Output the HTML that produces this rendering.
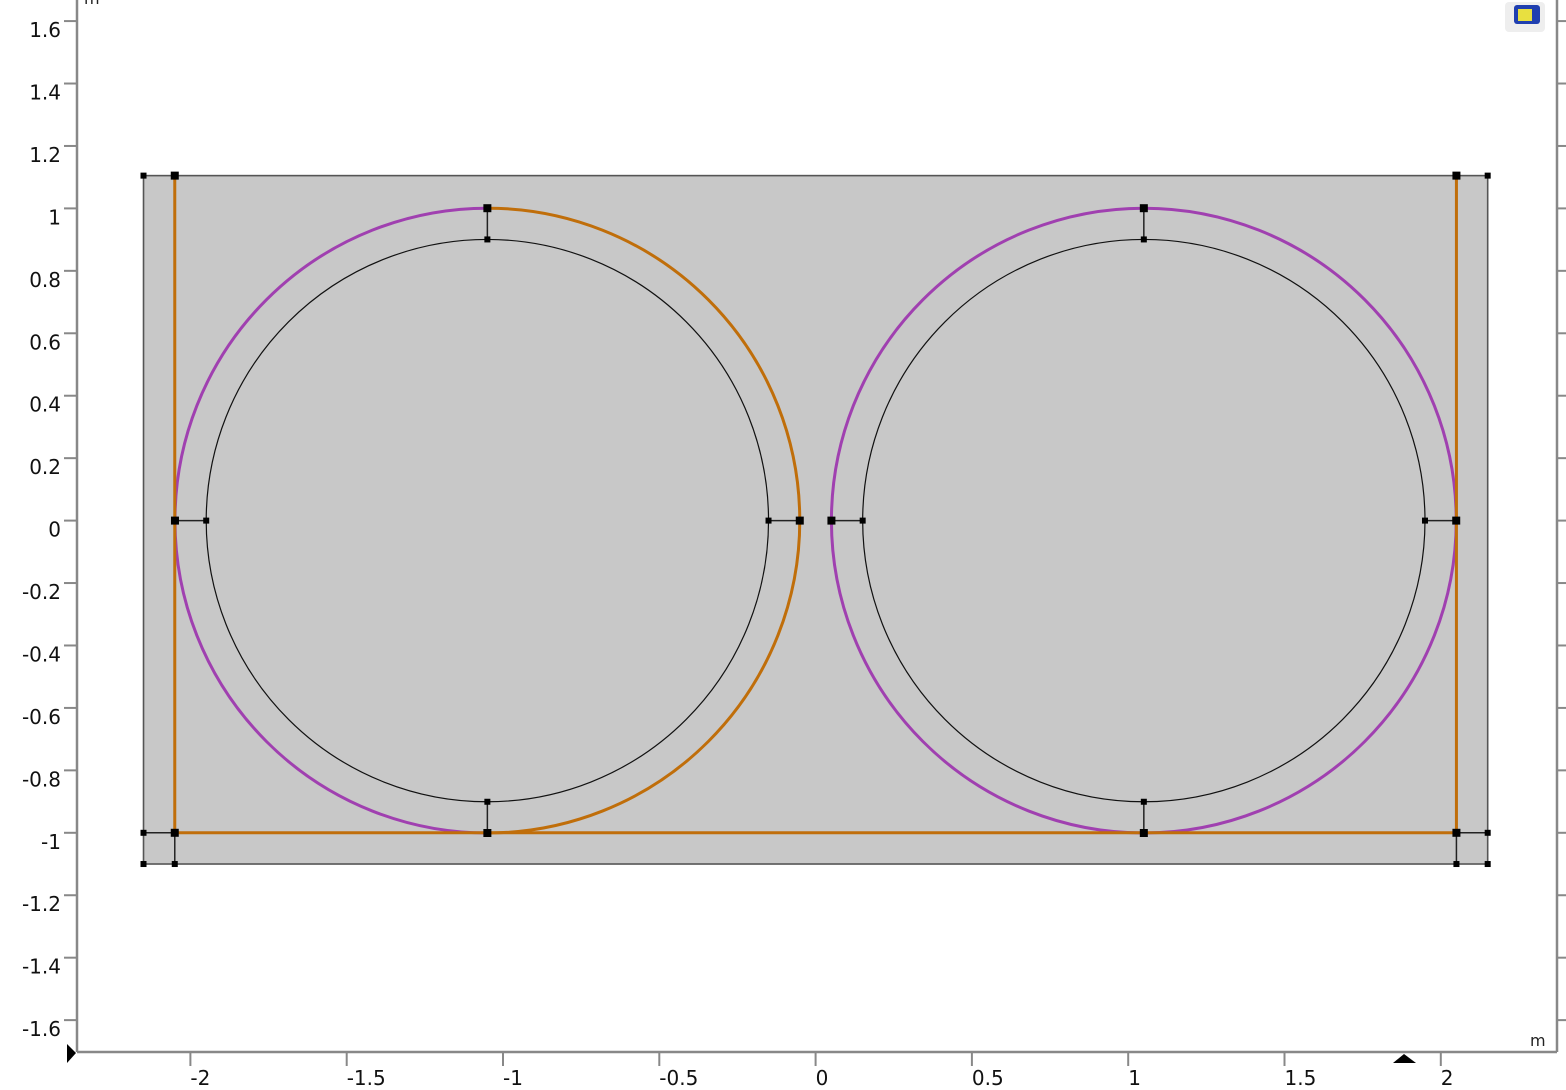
<!DOCTYPE html>
<html><head><meta charset="utf-8"><style>
html,body{margin:0;padding:0;background:#fff;}
svg{display:block;font-family:"DejaVu Sans","Liberation Sans",sans-serif;}
</style></head><body>
<svg id="chart" width="1566" height="1090" viewBox="0 0 1566 1090">
<g id="geom"></g>
<g id="axes"></g>
</svg>
<script>
const xTicks=[-2,-1.5,-1,-0.5,0,0.5,1,1.5,2];
const xTickLabels=["-2","-1.5","-1","-0.5","0","0.5","1","1.5","2"];
const yTicks=[1.6,1.4,1.2,1,0.8,0.6,0.4,0.2,0,-0.2,-0.4,-0.6,-0.8,-1,-1.2,-1.4,-1.6];
const yTickLabels=["1.6","1.4","1.2","1","0.8","0.6","0.4","0.2","0","-0.2","-0.4","-0.6","-0.8","-1","-1.2","-1.4","-1.6"];
const circleCenters=[-1.05,1.05];
const outerRadius=[1,1];
const innerRadius=[0.9,0.9];
const rectX=[-2.15,2.15];
const rectY=[-1.1,1.105];
const innerX=[-2.05,2.05];
const innerY=[-1];

const X=v=>815.6+312.6*v;
const Y=v=>520.6-312.2*v;
const NS="http://www.w3.org/2000/svg";
const geom=document.getElementById('geom');
const axes=document.getElementById('axes');
function mk(tag,attrs,parent){const e=document.createElementNS(NS,tag);for(const k in attrs)e.setAttribute(k,attrs[k]);parent.appendChild(e);return e;}
function line(x1,y1,x2,y2,stroke,w,parent,name){const e=mk('line',{x1,y1,x2,y2,stroke,'stroke-width':w},parent);


return e;}

const r=mk('rect',{x:X(rectX[0]),y:Y(rectY[1]),width:X(rectX[1])-X(rectX[0]),height:Y(rectY[0])-Y(rectY[1]),fill:'#c8c8c8',stroke:'#555','stroke-width':1.6},geom);



const OR='#c06e0a', PU='#a040b0';
circleCenters.forEach((cx,i)=>{
  const R=outerRadius[i]*312.4, Ri=innerRadius[i]*312.4, px=X(cx), py=Y(0);
  const ci=mk('circle',{cx:px,cy:py,r:Ri,fill:'none',stroke:'#111','stroke-width':1.2},geom);
  
  
  if(i===0){
    const a=mk('path',{d:`M${px} ${py-R} A${R} ${R} 0 0 0 ${px} ${py+R}`,fill:'none',stroke:PU,'stroke-width':3},geom);
    
    
    const b=mk('path',{d:`M${px} ${py-R} A${R} ${R} 0 0 1 ${px} ${py+R}`,fill:'none',stroke:OR,'stroke-width':3},geom);
    
    
  } else {
    const c=mk('circle',{cx:px,cy:py,r:R,fill:'none',stroke:PU,'stroke-width':3},geom);
    
    
  }
  line(px,py-R,px,py-Ri,'#222',1.5,geom,'connector-top');
  line(px,py+R,px,py+Ri,'#222',1.5,geom,'connector-bottom');
  line(px-R,py,px-Ri,py,'#222',1.5,geom,'connector-left');
  line(px+R,py,px+Ri,py,'#222',1.5,geom,'connector-right');
});
const yb=Y(innerY[0]);
line(X(rectX[0]),yb,X(innerX[0]),yb,'#222',1.5,geom,'corner-connector');
line(X(innerX[1]),yb,X(rectX[1]),yb,'#222',1.5,geom,'corner-connector');
line(X(innerX[0]),yb,X(innerX[0]),Y(rectY[0]),'#222',1.5,geom,'corner-connector');
line(X(innerX[1]),yb,X(innerX[1]),Y(rectY[0]),'#222',1.5,geom,'corner-connector');
line(X(innerX[0]),Y(rectY[1]),X(innerX[0]),yb,OR,3,geom,'left-boundary');
line(X(innerX[1]),Y(rectY[1]),X(innerX[1]),yb,OR,3,geom,'right-boundary');
line(X(innerX[0]),yb,X(innerX[1]),yb,OR,3,geom,'bottom-boundary');

function pt(x,y,s){const e=mk('rect',{x:x-s/2,y:y-s/2,width:s,height:s,fill:'#000'},geom);

}
circleCenters.forEach((cx,i)=>{
  const R=outerRadius[i]*312.4, Ri=innerRadius[i]*312.4, px=X(cx), py=Y(0);
  pt(px,py-R,8);pt(px,py+R,8);pt(px-R,py,8);pt(px+R,py,8);
  pt(px,py-Ri,6);pt(px,py+Ri,6);pt(px-Ri,py,6);pt(px+Ri,py,6);
});
pt(X(rectX[0]),Y(rectY[1]),6);pt(X(rectX[1]),Y(rectY[1]),6);
pt(X(rectX[0]),Y(rectY[0]),6);pt(X(rectX[1]),Y(rectY[0]),6);
pt(X(innerX[0]),Y(rectY[1]),8);pt(X(innerX[1]),Y(rectY[1]),8);
pt(X(innerX[0]),yb,8);pt(X(innerX[1]),yb,8);
pt(X(rectX[0]),yb,6);pt(X(rectX[1]),yb,6);
pt(X(innerX[0]),Y(rectY[0]),6);pt(X(innerX[1]),Y(rectY[0]),6);

const AX='#888';
line(77,0,77,1052,AX,2.5,axes,'y-axis');
line(77,1052,1557,1052,AX,2.5,axes,'x-axis');
line(1557,0,1557,1052,AX,2.5,axes,'right-axis');
yTicks.forEach((v,i)=>{
  line(64,Y(v),77,Y(v),AX,2,axes,'y-tick');
  line(1557,Y(v),1566,Y(v),AX,2,axes,'right-tick');
  const t=mk('text',{x:61,y:Y(v)+16,'text-anchor':'end','font-size':20,fill:'#111'},axes);
  t.textContent=yTickLabels[i];
  
  
});
xTicks.forEach((v,i)=>{
  line(X(v),1052,X(v),1066,AX,2,axes,'x-tick');
  const t=mk('text',{x:X(v),y:1085,'font-size':20,fill:'#111'},axes);
  t.textContent=xTickLabels[i];
  
  
});
const u1=mk('text',{x:1530,y:1046,'font-size':16,fill:'#222'},axes);u1.textContent='m';


const u2=mk('text',{x:84,y:4,'font-size':16,fill:'#222'},axes);u2.textContent='m';


const m1=mk('path',{d:'M67 1044 L76 1053 L67 1063 Z',fill:'#000'},axes);


const m2=mk('path',{d:'M1393 1063 L1404 1054 L1416 1063 Z',fill:'#000'},axes);


const ic=mk('g',{},axes);


mk('rect',{x:1505,y:2,width:40,height:30,rx:4,fill:'#eee'},ic);
mk('rect',{x:1514,y:5,width:26,height:19,rx:3,fill:'#2040b0'},ic);
mk('rect',{x:1518,y:9,width:14,height:12,fill:'#e8e040'},ic);
</script>
</body></html>
